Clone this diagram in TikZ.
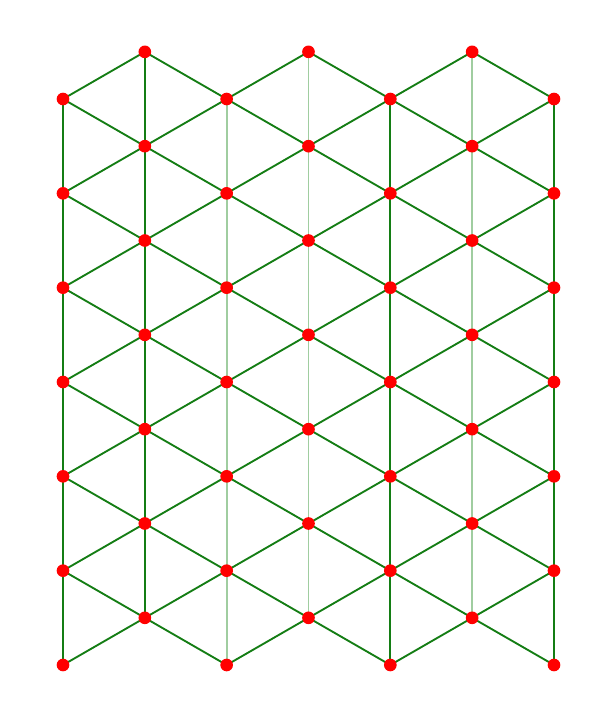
\documentclass[tikz,border=0pt]{standalone}
\usepackage{tikz}
\definecolor{linkdark}{RGB}{20,125,20}
\definecolor{linklight}{RGB}{160,205,160}

\begin{document}
\begin{tikzpicture}[x=0.03cm,y=0.03cm,
  dot/.style={circle,fill=red,inner sep=0pt,minimum size=0.38cm},
  link/.style={linkdark,line width=1.6pt}]
  \useasboundingbox (-63,-60) rectangle (550,665);
  % lattice points
  \foreach \i in {0,...,6}
    \foreach \j in {0,...,6}
      \coordinate (p-\i-\j) at ({81.83*\i},{94.33*\j+47.17*mod(\i,2)});
  % vertical links
  \foreach \i/\c in {0/linkdark,1/linkdark,2/linklight,3/linklight,4/linkdark,5/linklight,6/linkdark}
    \foreach \j [count=\k] in {0,...,5}
      \draw[link,\c] (p-\i-\j) -- (p-\i-\k);
  % slanted links
  \foreach \e/\o in {0/1,2/1,2/3,4/3,4/5,6/5} {
    \foreach \j in {0,...,6}
      \draw[link] (p-\e-\j) -- (p-\o-\j);
    \foreach \k [count=\j] in {0,...,5}
      \draw[link] (p-\e-\j) -- (p-\o-\k);
  }
  % points
  \foreach \i in {0,...,6}
    \foreach \j in {0,...,6}
      \node[dot] (d-\i-\j) at (p-\i-\j) {};
\end{tikzpicture}
\end{document}
